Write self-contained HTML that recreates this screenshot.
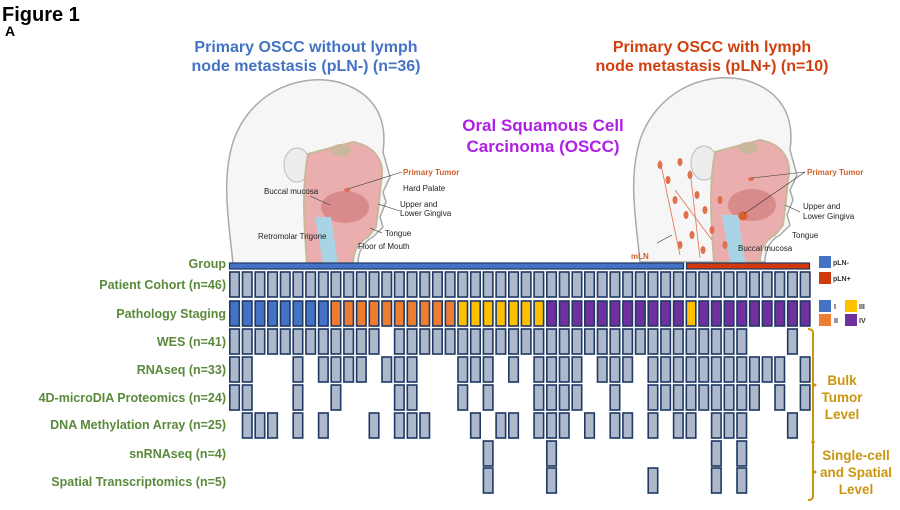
<!DOCTYPE html>
<html><head><meta charset="utf-8"><style>
html,body{margin:0;padding:0;background:#fff;}
svg{display:block;font-family:"Liberation Sans",Arial,sans-serif;}
.lab{fill:#5b8a3c;font-weight:bold;font-size:12.5px;text-anchor:end;}
.an{font-size:8px;fill:#222;}
.br{fill:#c9960e;font-weight:bold;font-size:13.5px;text-anchor:middle;}
</style></head><body>
<svg width="900" height="510" viewBox="0 0 900 510">
<defs>
<rect id="g" x="0.8" y="0" width="9.5" height="25" fill="#adb9ca" stroke="#1f3864" stroke-width="1.6"/>
<rect id="s1" x="0.8" y="0" width="9.5" height="25" fill="#4472c4" stroke="#1f3864" stroke-width="1.6"/>
<rect id="s2" x="0.8" y="0" width="9.5" height="25" fill="#ed7d31" stroke="#1f3864" stroke-width="1.6"/>
<rect id="s3" x="0.8" y="0" width="9.5" height="25" fill="#ffc000" stroke="#1f3864" stroke-width="1.6"/>
<rect id="s4" x="0.8" y="0" width="9.5" height="25" fill="#7030a0" stroke="#1f3864" stroke-width="1.6"/>
<g id="head">
<path d="M640,262 C636,220 628,180 640,140 C655,95 700,70 745,80 C780,90 795,115 790,150 L797,175 L790,190 L793,200 L787,215 L790,225 L780,235 C770,240 765,250 765,262 Z" fill="#f6f6f6" stroke="#aaa" stroke-width="1.5"/>
<ellipse cx="704" cy="163" rx="13" ry="17" fill="#ededed" stroke="#bbb"/>
<path d="M715,152 L760,140 C785,145 792,162 788,180 L786,200 L783,225 L775,235 C765,240 760,250 760,262 L714,262 C712,230 708,190 715,152 Z" fill="#eaaeae" stroke="#c9b79a" stroke-width="2"/>
<ellipse cx="752" cy="205" rx="24" ry="16" fill="#d98a8a"/>
<path d="M722,215 L730,262 L745,262 L738,215 Z" fill="#a9d4e6"/>
<ellipse cx="748" cy="148" rx="10" ry="6" fill="#c9b89c"/>
</g>
</defs>

<text x="2" y="21" font-size="20" font-weight="bold" fill="#000">Figure 1</text>
<text x="5" y="36" font-size="14" font-weight="bold" fill="#000">A</text>

<text x="306" y="52" font-size="16" font-weight="bold" fill="#4472c4" text-anchor="middle">Primary OSCC without lymph</text>
<text x="306" y="71" font-size="16" font-weight="bold" fill="#4472c4" text-anchor="middle">node metastasis (pLN-) (n=36)</text>
<text x="712" y="52" font-size="16" font-weight="bold" fill="#d0400f" text-anchor="middle">Primary OSCC with lymph</text>
<text x="712" y="71" font-size="16" font-weight="bold" fill="#d0400f" text-anchor="middle">node metastasis (pLN+) (n=10)</text>
<text x="543" y="131" font-size="17" font-weight="bold" fill="#b01fe6" text-anchor="middle">Oral Squamous Cell</text>
<text x="543" y="152" font-size="17" font-weight="bold" fill="#b01fe6" text-anchor="middle">Carcinoma (OSCC)</text>

<use href="#head" transform="translate(-407,2)"/>
<use href="#head"/>

<g fill="#e07050">
<ellipse cx="680" cy="162" rx="2.5" ry="4"/><ellipse cx="668" cy="180" rx="2.5" ry="4"/><ellipse cx="690" cy="175" rx="2.5" ry="4"/>
<ellipse cx="675" cy="200" rx="2.5" ry="4"/><ellipse cx="697" cy="195" rx="2.5" ry="4"/><ellipse cx="686" cy="215" rx="2.5" ry="4"/>
<ellipse cx="705" cy="210" rx="2.5" ry="4"/><ellipse cx="692" cy="235" rx="2.5" ry="4"/><ellipse cx="712" cy="230" rx="2.5" ry="4"/>
<ellipse cx="680" cy="245" rx="2.5" ry="4"/><ellipse cx="703" cy="250" rx="2.5" ry="4"/><ellipse cx="720" cy="200" rx="2.5" ry="4"/>
<ellipse cx="660" cy="165" rx="2.5" ry="4"/><ellipse cx="725" cy="245" rx="2.5" ry="4"/>
<circle cx="743" cy="216" r="4.5" fill="#d8602a"/><ellipse cx="751" cy="179" rx="3" ry="2"/>
<ellipse cx="347" cy="190" rx="3" ry="2"/>
</g>
<g stroke="#e07050" stroke-width="0.8" fill="none"><path d="M660,160 L680,255 M690,170 L700,258 M675,190 L712,240"/></g>

<g class="an">
<text x="403" y="175" fill="#d0602a" font-weight="bold">Primary Tumor</text>
<text x="403" y="191">Hard Palate</text>
<text x="264" y="194">Buccal mucosa</text>
<text x="400" y="207">Upper and</text>
<text x="400" y="216">Lower Gingiva</text>
<text x="385" y="236">Tongue</text>
<text x="258" y="239">Retromolar Trigone</text>
<text x="358" y="249">Floor of Mouth</text>
<text x="807" y="175" fill="#d0602a" font-weight="bold">Primary Tumor</text>
<text x="803" y="209">Upper and</text>
<text x="803" y="219">Lower Gingiva</text>
<text x="792" y="238">Tongue</text>
<text x="738" y="251">Buccal mucosa</text>
<text x="631" y="259" fill="#d0602a" font-weight="bold">mLN</text>
</g>
<g stroke="#333" stroke-width="0.6"><path d="M402,172 L348,189 M400,211 L378,204 M382,233 L370,228 M310,196 L330,205 M657,243 L672,235 M805,172 L752,178 M805,172 L744,214 M800,212 L785,205"/></g>

<text class="lab" x="226" y="268">Group</text>
<text class="lab" x="226" y="289">Patient Cohort (n=46)</text>
<text class="lab" x="226" y="318">Pathology Staging</text>
<text class="lab" x="226" y="346">WES (n=41)</text>
<text class="lab" x="226" y="374">RNAseq (n=33)</text>
<text class="lab" x="226" y="402">4D-microDIA Proteomics (n=24)</text>
<text class="lab" x="226" y="429">DNA Methylation Array (n=25)</text>
<text class="lab" x="226" y="458">snRNAseq (n=4)</text>
<text class="lab" x="226" y="486">Spatial Transcriptomics (n=5)</text>

<rect x="229.5" y="263" width="454" height="6" fill="#4472c4" stroke="#1f3864" stroke-width="1.2"/>
<rect x="686.5" y="263" width="123" height="6" fill="#d03a0c" stroke="#1f3864" stroke-width="1.2"/>

<g transform="translate(0,272)">
<use href="#g" x="229.0"/><use href="#g" x="241.7"/><use href="#g" x="254.4"/><use href="#g" x="267.0"/><use href="#g" x="279.7"/><use href="#g" x="292.4"/><use href="#g" x="305.1"/><use href="#g" x="317.8"/><use href="#g" x="330.4"/><use href="#g" x="343.1"/><use href="#g" x="355.8"/><use href="#g" x="368.5"/><use href="#g" x="381.2"/><use href="#g" x="393.8"/><use href="#g" x="406.5"/><use href="#g" x="419.2"/><use href="#g" x="431.9"/><use href="#g" x="444.6"/><use href="#g" x="457.2"/><use href="#g" x="469.9"/><use href="#g" x="482.6"/><use href="#g" x="495.3"/><use href="#g" x="508.0"/><use href="#g" x="520.6"/><use href="#g" x="533.3"/><use href="#g" x="546.0"/><use href="#g" x="558.7"/><use href="#g" x="571.4"/><use href="#g" x="584.0"/><use href="#g" x="596.7"/><use href="#g" x="609.4"/><use href="#g" x="622.1"/><use href="#g" x="634.8"/><use href="#g" x="647.4"/><use href="#g" x="660.1"/><use href="#g" x="672.8"/><use href="#g" x="685.5"/><use href="#g" x="698.2"/><use href="#g" x="710.8"/><use href="#g" x="723.5"/><use href="#g" x="736.2"/><use href="#g" x="748.9"/><use href="#g" x="761.6"/><use href="#g" x="774.2"/><use href="#g" x="786.9"/><use href="#g" x="799.6"/>
</g>
<g transform="translate(0,301)">
<use href="#s1" x="229.0"/><use href="#s1" x="241.7"/><use href="#s1" x="254.4"/><use href="#s1" x="267.0"/><use href="#s1" x="279.7"/><use href="#s1" x="292.4"/><use href="#s1" x="305.1"/><use href="#s1" x="317.8"/>
<use href="#s2" x="330.4"/><use href="#s2" x="343.1"/><use href="#s2" x="355.8"/><use href="#s2" x="368.5"/><use href="#s2" x="381.2"/><use href="#s2" x="393.8"/><use href="#s2" x="406.5"/><use href="#s2" x="419.2"/><use href="#s2" x="431.9"/><use href="#s2" x="444.6"/>
<use href="#s3" x="457.2"/><use href="#s3" x="469.9"/><use href="#s3" x="482.6"/><use href="#s3" x="495.3"/><use href="#s3" x="508.0"/><use href="#s3" x="520.6"/><use href="#s3" x="533.3"/>
<use href="#s4" x="546.0"/><use href="#s4" x="558.7"/><use href="#s4" x="571.4"/><use href="#s4" x="584.0"/><use href="#s4" x="596.7"/><use href="#s4" x="609.4"/><use href="#s4" x="622.1"/><use href="#s4" x="634.8"/><use href="#s4" x="647.4"/><use href="#s4" x="660.1"/><use href="#s4" x="672.8"/>
<use href="#s3" x="685.5"/>
<use href="#s4" x="698.2"/><use href="#s4" x="710.8"/><use href="#s4" x="723.5"/><use href="#s4" x="736.2"/><use href="#s4" x="748.9"/><use href="#s4" x="761.6"/><use href="#s4" x="774.2"/><use href="#s4" x="786.9"/><use href="#s4" x="799.6"/>
</g>
<g transform="translate(0,329)">
<use href="#g" x="229.0"/><use href="#g" x="241.7"/><use href="#g" x="254.4"/><use href="#g" x="267.0"/><use href="#g" x="279.7"/><use href="#g" x="292.4"/><use href="#g" x="305.1"/><use href="#g" x="317.8"/><use href="#g" x="330.4"/><use href="#g" x="343.1"/><use href="#g" x="355.8"/><use href="#g" x="368.5"/><use href="#g" x="393.8"/><use href="#g" x="406.5"/><use href="#g" x="419.2"/><use href="#g" x="431.9"/><use href="#g" x="444.6"/><use href="#g" x="457.2"/><use href="#g" x="469.9"/><use href="#g" x="482.6"/><use href="#g" x="495.3"/><use href="#g" x="508.0"/><use href="#g" x="520.6"/><use href="#g" x="533.3"/><use href="#g" x="546.0"/><use href="#g" x="558.7"/><use href="#g" x="571.4"/><use href="#g" x="584.0"/><use href="#g" x="596.7"/><use href="#g" x="609.4"/><use href="#g" x="622.1"/><use href="#g" x="634.8"/><use href="#g" x="647.4"/><use href="#g" x="660.1"/><use href="#g" x="672.8"/><use href="#g" x="685.5"/><use href="#g" x="698.2"/><use href="#g" x="710.8"/><use href="#g" x="723.5"/><use href="#g" x="736.2"/><use href="#g" x="786.9"/>
</g>
<g transform="translate(0,357)">
<use href="#g" x="229.0"/><use href="#g" x="241.7"/><use href="#g" x="292.4"/><use href="#g" x="317.8"/><use href="#g" x="330.4"/><use href="#g" x="343.1"/><use href="#g" x="355.8"/><use href="#g" x="381.2"/><use href="#g" x="393.8"/><use href="#g" x="406.5"/><use href="#g" x="457.2"/><use href="#g" x="469.9"/><use href="#g" x="482.6"/><use href="#g" x="508.0"/><use href="#g" x="533.3"/><use href="#g" x="546.0"/><use href="#g" x="558.7"/><use href="#g" x="571.4"/><use href="#g" x="596.7"/><use href="#g" x="609.4"/><use href="#g" x="622.1"/><use href="#g" x="647.4"/><use href="#g" x="660.1"/><use href="#g" x="672.8"/><use href="#g" x="685.5"/><use href="#g" x="698.2"/><use href="#g" x="710.8"/><use href="#g" x="723.5"/><use href="#g" x="736.2"/><use href="#g" x="748.9"/><use href="#g" x="761.6"/><use href="#g" x="774.2"/><use href="#g" x="799.6"/>
</g>
<g transform="translate(0,385)">
<use href="#g" x="229.0"/><use href="#g" x="241.7"/><use href="#g" x="292.4"/><use href="#g" x="330.4"/><use href="#g" x="393.8"/><use href="#g" x="406.5"/><use href="#g" x="457.2"/><use href="#g" x="482.6"/><use href="#g" x="533.3"/><use href="#g" x="546.0"/><use href="#g" x="558.7"/><use href="#g" x="571.4"/><use href="#g" x="609.4"/><use href="#g" x="647.4"/><use href="#g" x="660.1"/><use href="#g" x="672.8"/><use href="#g" x="685.5"/><use href="#g" x="698.2"/><use href="#g" x="710.8"/><use href="#g" x="723.5"/><use href="#g" x="736.2"/><use href="#g" x="748.9"/><use href="#g" x="774.2"/><use href="#g" x="799.6"/>
</g>
<g transform="translate(0,413)">
<use href="#g" x="241.7"/><use href="#g" x="254.4"/><use href="#g" x="267.0"/><use href="#g" x="292.4"/><use href="#g" x="317.8"/><use href="#g" x="368.5"/><use href="#g" x="393.8"/><use href="#g" x="406.5"/><use href="#g" x="419.2"/><use href="#g" x="469.9"/><use href="#g" x="495.3"/><use href="#g" x="508.0"/><use href="#g" x="533.3"/><use href="#g" x="546.0"/><use href="#g" x="558.7"/><use href="#g" x="584.0"/><use href="#g" x="609.4"/><use href="#g" x="622.1"/><use href="#g" x="647.4"/><use href="#g" x="672.8"/><use href="#g" x="685.5"/><use href="#g" x="710.8"/><use href="#g" x="723.5"/><use href="#g" x="736.2"/><use href="#g" x="786.9"/>
</g>
<g transform="translate(0,441)">
<use href="#g" x="482.6"/><use href="#g" x="546.0"/><use href="#g" x="710.8"/><use href="#g" x="736.2"/>
</g>
<g transform="translate(0,468)">
<use href="#g" x="482.6"/><use href="#g" x="546.0"/><use href="#g" x="647.4"/><use href="#g" x="710.8"/><use href="#g" x="736.2"/>
</g>

<rect x="819" y="256" width="12" height="12" fill="#4472c4"/>
<text x="833" y="265" font-size="7" font-weight="bold" fill="#333">pLN-</text>
<rect x="819" y="272" width="12" height="12" fill="#d03a0c"/>
<text x="833" y="281" font-size="7" font-weight="bold" fill="#333">pLN+</text>
<rect x="819" y="300" width="12" height="12" fill="#4472c4"/>
<text x="834" y="309" font-size="7" font-weight="bold" fill="#333">I</text>
<rect x="819" y="314" width="12" height="12" fill="#ed7d31"/>
<text x="834" y="323" font-size="7" font-weight="bold" fill="#333">II</text>
<rect x="845" y="300" width="12" height="12" fill="#ffc000"/>
<text x="859" y="309" font-size="7" font-weight="bold" fill="#333">III</text>
<rect x="845" y="314" width="12" height="12" fill="#7030a0"/>
<text x="859" y="323" font-size="7" font-weight="bold" fill="#333">IV</text>

<path d="M808,329 Q813,329 813,333 L813,496 Q813,500 808,500" fill="none" stroke="#c9960e" stroke-width="2"/>
<circle cx="815" cy="385" r="1.5" fill="#c9960e"/>
<circle cx="813" cy="442" r="1.8" fill="#c9960e"/>
<circle cx="815" cy="472" r="1.5" fill="#c9960e"/>
<text class="br" x="842" y="385">Bulk</text>
<text class="br" x="842" y="402">Tumor</text>
<text class="br" x="842" y="419">Level</text>
<text class="br" x="856" y="460">Single-cell</text>
<text class="br" x="856" y="477">and Spatial</text>
<text class="br" x="856" y="494">Level</text>
</svg>
</body></html>
